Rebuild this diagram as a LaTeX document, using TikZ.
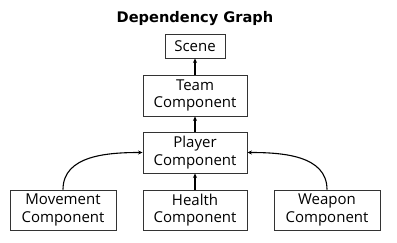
\documentclass[tikz,border=0pt]{standalone}
\usepackage{fontspec}
\setmainfont{Open Sans}
\newfontfamily\titlefont{DejaVu Sans}
\usetikzlibrary{arrows.meta}
\begin{document}
\begin{tikzpicture}[x=1pt,y=-1pt,
  box/.style={draw=black!80,line width=0.9pt,inner sep=0pt,align=center,font=\fontsize{15}{17.5}\selectfont},
  dep/.style={line width=1.1pt,-{Stealth[length=4.5pt,width=4pt]}}]
\useasboundingbox (0,0) rectangle (397,243);
\node (title) at (195,19) {\titlefont\fontsize{14.6}{17}\selectfont\bfseries Dependency Graph};
\node[box,minimum width=60pt,minimum height=24pt] (scene) at (195,46) {Scene};
\node[box,minimum width=104pt,minimum height=41pt] (team) at (195,95.5) {Team\\Component};
\node[box,minimum width=104pt,minimum height=41pt] (player) at (195,152.5) {Player\\Component};
\node[box,minimum width=106pt,minimum height=40pt] (move) at (63,210) {Movement\\Component};
\node[box,minimum width=104pt,minimum height=40pt] (health) at (195,210) {Health\\Component};
\node[box,minimum width=106pt,minimum height=40pt] (weapon) at (327,210) {Weapon\\Component};
\draw[dep] (team) -- (scene);
\draw[dep] (player) -- (team);
\draw[dep] (health) -- (player);
\draw[dep] (move.north) to[out=90,in=180] (player.west);
\draw[dep] (weapon.north) to[out=90,in=0] (player.east);
\end{tikzpicture}
\end{document}
